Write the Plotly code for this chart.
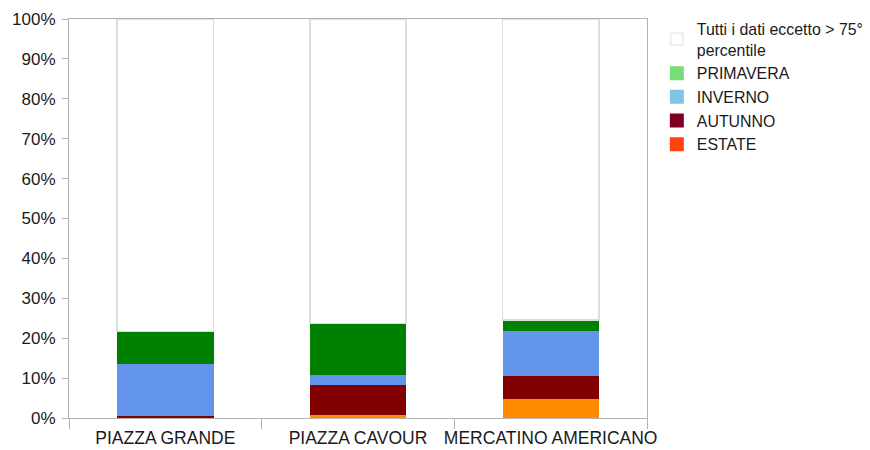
import plotly.graph_objects as go

categories = ["PIAZZA GRANDE", "PIAZZA CAVOUR", "MERCATINO AMERICANO"]
estate = [0.0, 0.75, 4.8]
autunno = [0.5, 7.5, 5.7]
inverno = [13.0, 2.5, 11.3]
primavera = [8.2, 12.9, 2.8]
resto = [78.3, 76.3, 75.4]

series_names = ["ESTATE", "AUTUNNO", "INVERNO", "PRIMAVERA", "Tutti i dati eccetto > 75°<br>percentile"]
series_values = [estate, autunno, inverno, primavera, resto]
bar_colors = ["#ff8c00", "#800000", "#6495ed", "#008000", "#ffffff"]
legend_colors = ["#ff420e", "#7e0021", "#83c4e6", "#77dd77", "#ffffff"]

fig = go.Figure()
for name, vals, col in zip(series_names, series_values, bar_colors):
    is_white = col == "#ffffff"
    fig.add_trace(go.Bar(
        x=categories, y=vals, name=name, showlegend=False,
        marker=dict(color=col, line=dict(color="#dddddd" if is_white else col,
                                         width=1.5 if is_white else 0)),
    ))
for name, col in zip(series_names, legend_colors):
    is_white = col == "#ffffff"
    fig.add_trace(go.Bar(
        x=categories, y=[None] * len(categories), name=name, showlegend=True,
        marker=dict(color=col, line=dict(color="#eeeeee" if is_white else col, width=1)),
    ))

fig.update_layout(
    width=870, height=450,
    margin=dict(l=61, r=231, t=11, b=40, autoexpand=False),
    barmode="stack", bargap=0.5,
    plot_bgcolor="white", paper_bgcolor="white",
    font=dict(family="Liberation Sans, Arial, sans-serif", size=16, color="#1a1a1a"),
    legend=dict(x=1.017, y=1.0175, xanchor="left", yanchor="top",
                traceorder="reversed", font=dict(size=15.9),
                tracegroupgap=0, itemsizing="constant", bgcolor="rgba(0,0,0,0)"),
    showlegend=True,
)
fig.update_yaxes(range=[0, 100], dtick=10, ticksuffix="%", showgrid=False,
                 showline=True, linecolor="#b3b3b3", linewidth=1, mirror=True,
                 ticks="outside", ticklen=6, tickcolor="#b3b3b3", ticklabelstandoff=3,
                 tickfont=dict(size=17), zeroline=False, automargin=False)
fig.update_xaxes(showline=True, linecolor="#b3b3b3", linewidth=1, mirror=True,
                 ticks="outside", tickson="boundaries", ticklen=10, tickcolor="#b3b3b3",
                 ticklabelstandoff=4,
                 tickfont=dict(size=17.5), showgrid=False, tickangle=0, automargin=False)

fig.write_html("out.html")
